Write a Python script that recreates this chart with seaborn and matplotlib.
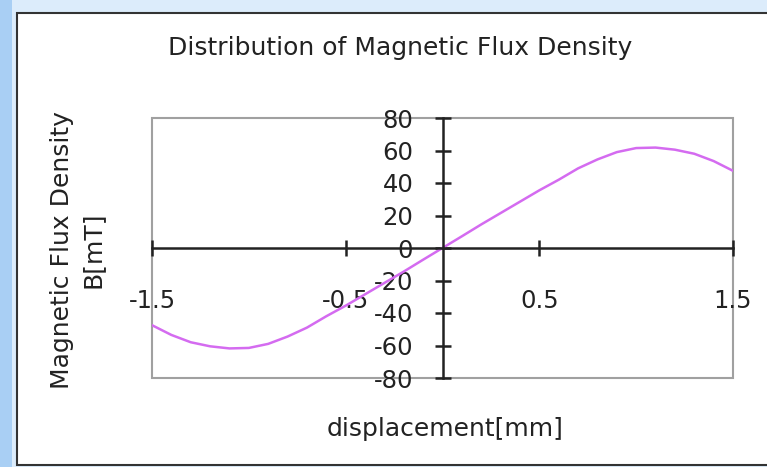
import matplotlib
matplotlib.use("Agg")
import matplotlib.pyplot as plt
import seaborn as sns
from matplotlib.patches import Rectangle

sns.set_theme(style="white")
plt.rcParams["font.family"] = ["DejaVu Sans"]
plt.rcParams["axes.unicode_minus"] = False

# displacement [mm] and flux density [mT]
displacement = [-1.5, -1.4, -1.3, -1.2, -1.1, -1.0, -0.9, -0.8, -0.7, -0.6,
                -0.5, -0.4, -0.3, -0.2, -0.1, 0.0, 0.1, 0.2, 0.3, 0.4,
                0.5, 0.6, 0.7, 0.8, 0.9, 1.0, 1.1, 1.2, 1.3, 1.4, 1.5]
flux = [-47.5, -53.5, -58.0, -60.5, -61.8, -61.5, -59.0, -54.5, -49.0, -42.0,
        -35.5, -28.5, -21.5, -14.5, -7.2, 0.0, 7.2, 14.5, 21.5, 28.5,
        35.5, 42.0, 49.0, 54.5, 59.0, 61.5, 61.8, 60.5, 58.0, 53.5, 47.5]

xticks = [-1.5, -0.5, 0.5, 1.5]
xticklabels = ["-1.5", "-0.5", "0.5", "1.5"]
yticks = [-80, -60, -40, -20, 0, 20, 40, 60, 80]
yticklabels = ["-80", "-60", "-40", "-20", "0", "20", "40", "60", "80"]

title = "Distribution of Magnetic Flux Density"
xlabel = "displacement[mm]"
ylabel = ["Magnetic Flux Density", "B[mT]"]

W, H = 767, 467
fig = plt.figure(figsize=(W / 100, H / 100), dpi=100, facecolor="#dcecfb")

# blue strip on the left and the white panel with its dark border
fig.patches.append(Rectangle((0, 0), 12 / W, 1, transform=fig.transFigure,
                             facecolor="#a9cff4", edgecolor="none", zorder=-3))
fig.patches.append(Rectangle((17 / W, 2 / H), 1.0, (465 - 13) / H,
                             transform=fig.transFigure, facecolor="white",
                             edgecolor="#333333", linewidth=1.5, zorder=-2))

ax = fig.add_axes([152 / W, (H - 378) / H, (733 - 152) / W, (378 - 118) / H])
ax.set_facecolor("white")

sns.lineplot(x=displacement, y=flux, ax=ax, color="#d46bf0", linewidth=1.8)

ax.set_xlim(-1.5, 1.5)
ax.set_ylim(-80, 80)

# axes crossing at the origin
ax.spines["left"].set_position(("data", 0))
ax.spines["bottom"].set_position(("data", 0))
ax.spines["top"].set_visible(False)
ax.spines["right"].set_visible(False)
for s in ["left", "bottom"]:
    ax.spines[s].set_color("#222222")
    ax.spines[s].set_linewidth(1.8)

# gray plot-area frame
ax.add_patch(Rectangle((0, 0), 1, 1, transform=ax.transAxes, fill=False,
                       edgecolor="#a0a0a0", linewidth=1.5, clip_on=False, zorder=0))

ax.set_xticks(xticks)
ax.set_xticklabels(xticklabels)
ax.set_yticks(yticks)
ax.set_yticklabels(yticklabels)
ax.tick_params(bottom=True, left=True, direction="inout", length=12, width=1.8,
               color="#222222", labelsize=17.5, labelcolor="#222222")
ax.tick_params(axis="x", pad=23.5)
ax.tick_params(axis="y", pad=15)
ax.grid(False)

fig.text(400 / W, (H - 48) / H, title, ha="center", va="center",
         fontsize=18, color="#222222")
fig.text(445.5 / W, (H - 429) / H, xlabel, ha="center", va="center",
         fontsize=18, color="#222222")
fig.text(62 / W, (H - 250) / H, ylabel[0], ha="center", va="center",
         rotation=90, fontsize=18, color="#222222")
fig.text(93 / W, (H - 250) / H, ylabel[1], ha="center", va="center",
         rotation=90, fontsize=18, color="#222222")

fig.savefig("out.png", dpi=100, facecolor=fig.get_facecolor())
